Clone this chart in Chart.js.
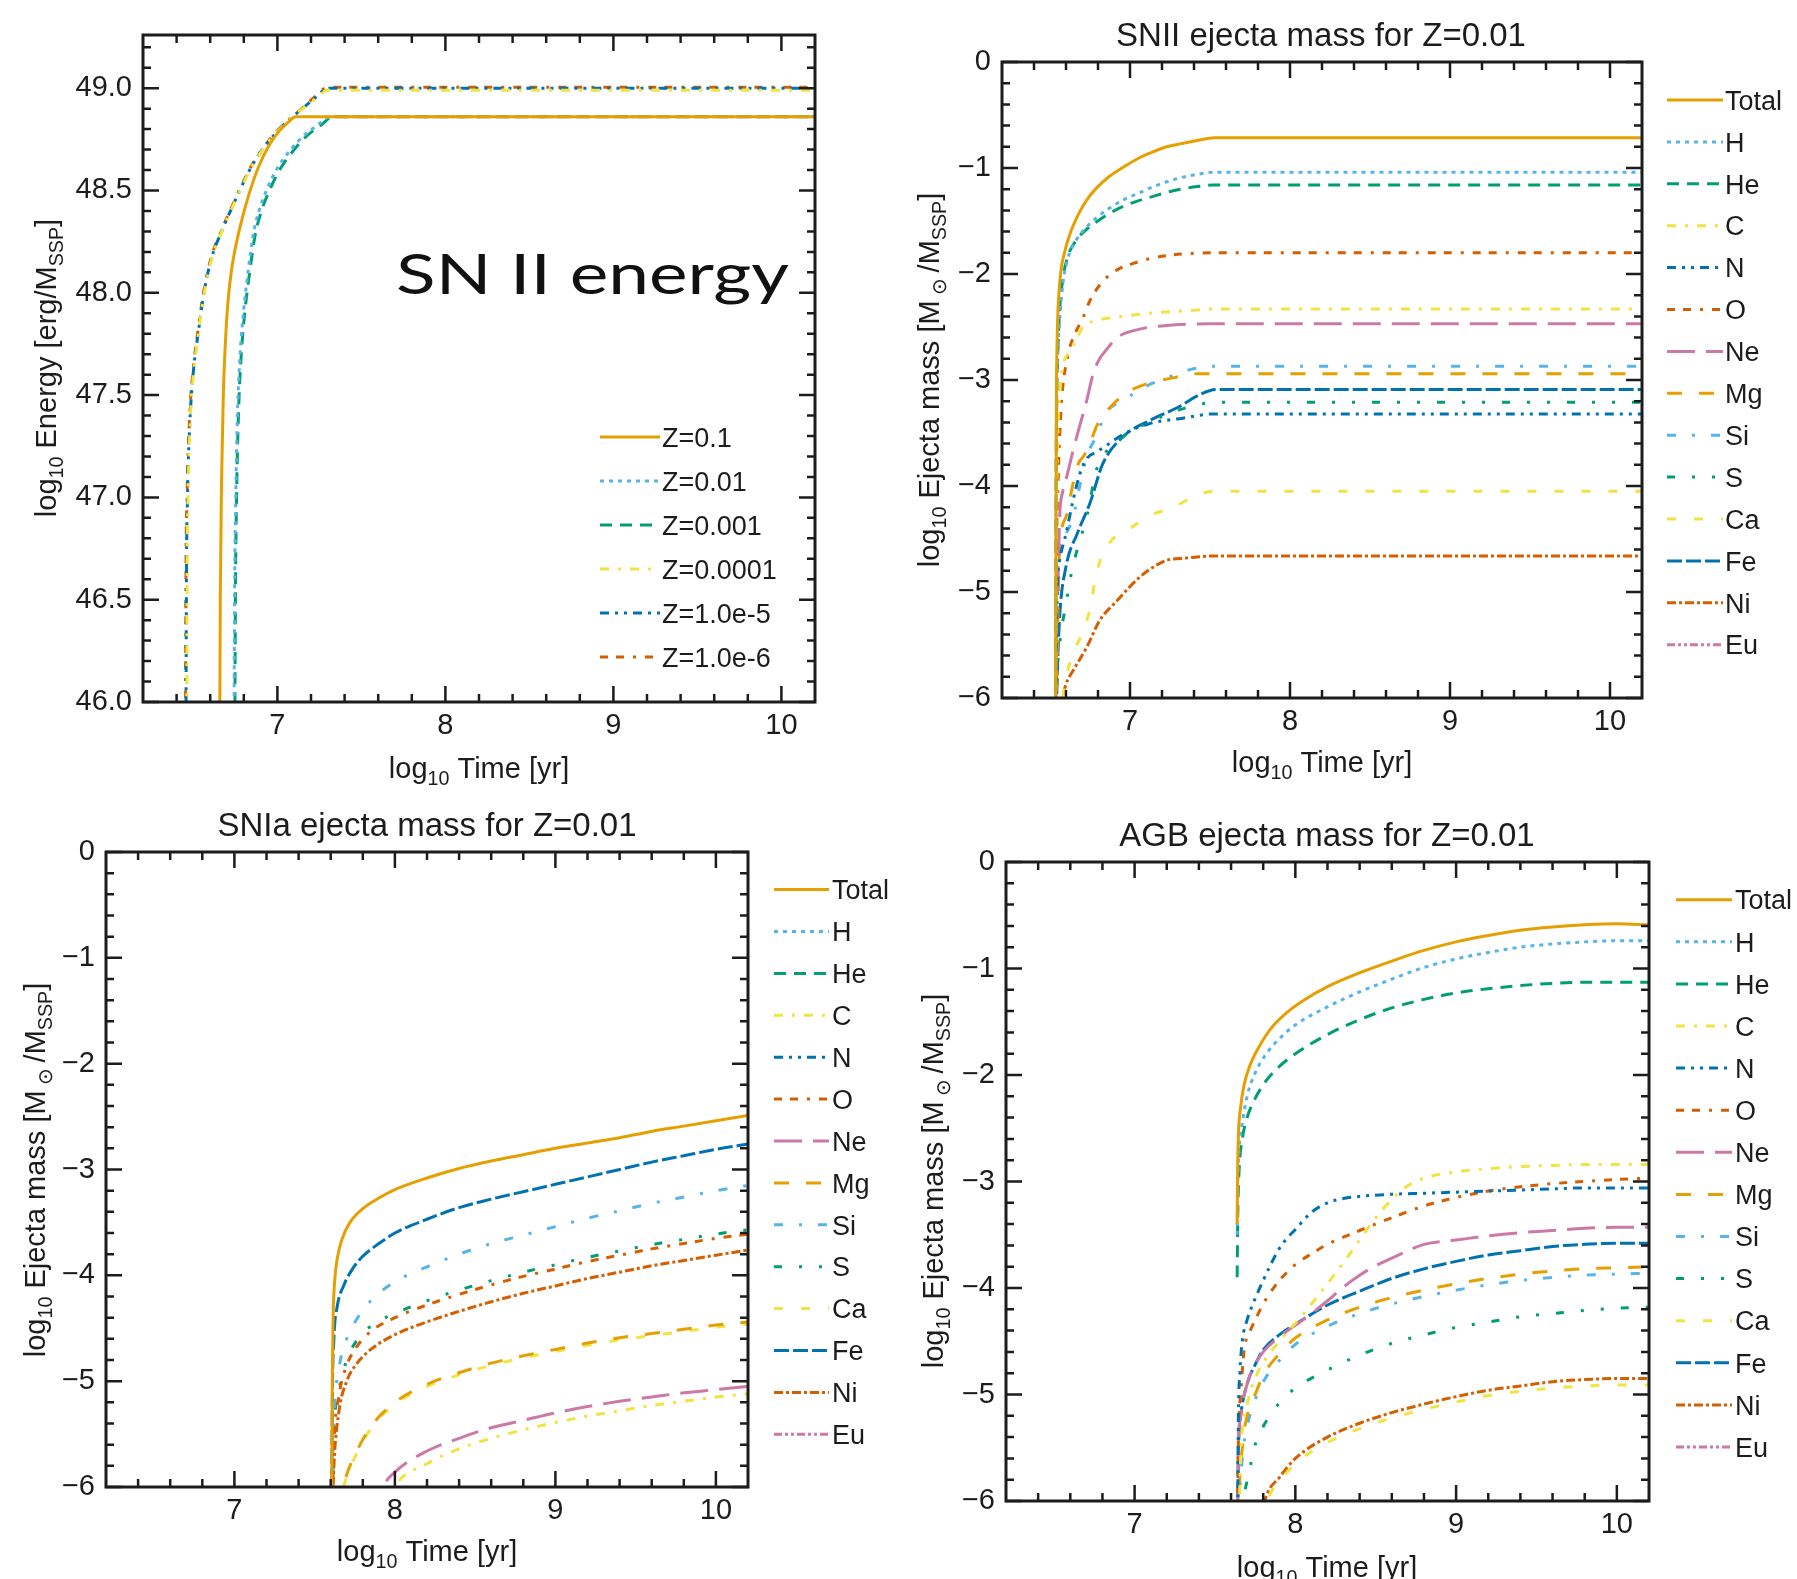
<!DOCTYPE html>
<html lang="en">
<head>
<meta charset="UTF-8">
<title>SN II energy and ejecta masses</title>
<script src="https://cdn.jsdelivr.net/npm/chart.js"></script>
<style>
  body { margin: 0; background: #fff; }
  #page { position: relative; width: 1797px; height: 1579px; overflow: hidden; background: #fff; }
  #page canvas { position: absolute; }
  #snLabel {
    position: absolute;
    font-family: "Lato", "Open Sans", sans-serif;
    font-weight: 400;
    font-size: 56px;
    line-height: 56px;
    color: #111;
    white-space: nowrap;
    transform-origin: left center;
  }
</style>
</head>
<body>
<div id="page">
  <canvas id="energyChart" width="900" height="800" style="left:0;top:0"></canvas>
  <canvas id="sniiChart" width="897" height="800" style="left:900px;top:0"></canvas>
  <canvas id="sniaChart" width="900" height="779" style="left:0;top:800px"></canvas>
  <canvas id="agbChart" width="897" height="779" style="left:900px;top:800px"></canvas>
  <div id="snLabel">SN II energy</div>
</div>

<script>
  // ---- axes ----
  const timeMin = 6.2, timeMax = 10.2;
  const timeTicks = [7, 8, 9, 10];
  const timeTickLabels = ["7", "8", "9", "10"];
  const energyTicks = [46, 46.5, 47, 47.5, 48, 48.5, 49];
  const energyTickLabels = ["46.0", "46.5", "47.0", "47.5", "48.0", "48.5", "49.0"];
  const massTicks = [0, -1, -2, -3, -4, -5, -6];
  const massTickLabels = ["0", "\u22121", "\u22122", "\u22123", "\u22124", "\u22125", "\u22126"];

  // ---- series names ----
  const metalNames = ["Z=0.1", "Z=0.01", "Z=0.001", "Z=0.0001", "Z=1.0e-5", "Z=1.0e-6"];
  const elementNames = ["Total", "H", "He", "C", "N", "O", "Ne", "Mg", "Si", "S", "Ca", "Fe", "Ni", "Eu"];

  // ---- SN II energy: [log10 t, log10 E] ----
  const eZ1e1 = [[6.655,45.5],[6.66,46.5],[6.668,47.1],[6.678,47.5],[6.69,47.75],[6.705,47.95],[6.725,48.1],[6.75,48.22],[6.78,48.33],[6.83,48.48],[6.89,48.62],[6.95,48.72],[7.01,48.79],[7.06,48.83],[7.11,48.86],[10.2,48.86]];
  const eZ1e2 = [[6.74,45.5],[6.745,46.5],[6.752,47.0],[6.762,47.4],[6.778,47.7],[6.8,47.92],[6.825,48.1],[6.855,48.28],[6.89,48.4],[6.94,48.51],[7.0,48.61],[7.08,48.7],[7.16,48.77],[7.24,48.82],[7.31,48.86],[10.2,48.86]];
  const eZ1e3 = [[6.745,45.5],[6.75,46.5],[6.757,47.0],[6.768,47.4],[6.785,47.7],[6.808,47.92],[6.835,48.1],[6.867,48.28],[6.905,48.4],[6.958,48.51],[7.02,48.61],[7.1,48.7],[7.18,48.77],[7.26,48.82],[7.33,48.86],[10.2,48.86]];
  const eZ1e4 = [[6.46,45.5],[6.462,46.5],[6.468,47.0],[6.48,47.35],[6.5,47.6],[6.53,47.8],[6.565,48.0],[6.61,48.17],[6.67,48.3],[6.75,48.45],[6.85,48.62],[6.95,48.74],[7.05,48.83],[7.15,48.9],[7.23,48.95],[7.3,48.99],[10.2,48.99]];
  const eZ1e5 = [[6.455,45.5],[6.458,46.5],[6.465,47.0],[6.478,47.35],[6.498,47.6],[6.528,47.8],[6.563,48.0],[6.608,48.17],[6.668,48.3],[6.748,48.45],[6.848,48.62],[6.948,48.74],[7.048,48.83],[7.148,48.9],[7.228,48.955],[7.3,49.0],[10.2,49.0]];
  const eZ1e6 = [[6.452,45.5],[6.455,46.5],[6.462,47.0],[6.475,47.35],[6.495,47.6],[6.525,47.8],[6.56,48.0],[6.605,48.17],[6.665,48.3],[6.745,48.45],[6.845,48.62],[6.945,48.74],[7.045,48.83],[7.145,48.9],[7.225,48.96],[7.3,49.005],[10.2,49.005]];

  // ---- SNII ejecta, Z=0.01: [log10 t, log10 M] ----
  const sn2Total = [[6.535,-6.5],[6.537,-4.5],[6.54,-3.2],[6.545,-2.6],[6.555,-2.2],[6.57,-1.95],[6.59,-1.8],[6.63,-1.6],[6.68,-1.43],[6.73,-1.3],[6.79,-1.19],[6.87,-1.08],[6.96,-0.99],[7.05,-0.91],[7.14,-0.85],[7.23,-0.8],[7.32,-0.77],[7.42,-0.74],[7.53,-0.715],[10.2,-0.715]];
  const sn2H = [[6.535,-6.5],[6.537,-4.5],[6.54,-3.5],[6.548,-2.8],[6.56,-2.45],[6.58,-2.1],[6.61,-1.86],[6.66,-1.69],[6.72,-1.57],[6.79,-1.47],[6.87,-1.38],[6.96,-1.3],[7.05,-1.24],[7.14,-1.18],[7.23,-1.13],[7.32,-1.09],[7.42,-1.06],[7.52,-1.04],[10.2,-1.04]];
  const sn2He = [[6.535,-6.5],[6.537,-4.5],[6.54,-3.5],[6.548,-2.8],[6.56,-2.35],[6.58,-2.05],[6.61,-1.84],[6.66,-1.69],[6.72,-1.59],[6.79,-1.51],[6.87,-1.43],[6.96,-1.36],[7.05,-1.31],[7.14,-1.27],[7.23,-1.23],[7.32,-1.2],[7.42,-1.175],[7.52,-1.16],[10.2,-1.16]];
  const sn2C = [[6.535,-6.5],[6.54,-4.5],[6.55,-3.5],[6.565,-3.05],[6.58,-2.87],[6.63,-2.72],[6.67,-2.6],[6.71,-2.49],[6.76,-2.45],[6.81,-2.43],[6.95,-2.4],[7.06,-2.38],[7.2,-2.36],[7.37,-2.345],[7.52,-2.33],[10.2,-2.33]];
  const sn2N = [[6.535,-6.5],[6.545,-5.0],[6.56,-4.7],[6.6,-4.45],[6.645,-4.13],[6.69,-3.87],[6.73,-3.74],[6.79,-3.68],[6.85,-3.62],[6.96,-3.51],[7.125,-3.41],[7.33,-3.36],[7.52,-3.32],[10.2,-3.32]];
  const sn2O = [[6.535,-6.5],[6.54,-4.8],[6.55,-4.0],[6.57,-3.26],[6.61,-2.78],[6.645,-2.6],[6.68,-2.49],[6.71,-2.4],[6.75,-2.25],[6.83,-2.07],[6.92,-1.96],[7.02,-1.9],[7.14,-1.85],[7.27,-1.82],[7.4,-1.805],[7.52,-1.8],[10.2,-1.8]];
  const sn2Ne = [[6.535,-6.5],[6.54,-5.5],[6.55,-4.9],[6.56,-4.3],[6.58,-4.05],[6.605,-3.91],[6.645,-3.66],[6.69,-3.41],[6.73,-3.19],[6.77,-2.94],[6.81,-2.8],[6.85,-2.72],[6.92,-2.6],[7.06,-2.52],[7.2,-2.49],[7.35,-2.475],[7.5,-2.47],[10.2,-2.47]];
  const sn2Mg = [[6.535,-6.5],[6.55,-5.2],[6.56,-4.6],[6.6,-4.29],[6.645,-3.97],[6.68,-3.78],[6.71,-3.72],[6.75,-3.6],[6.79,-3.44],[6.84,-3.32],[6.9,-3.22],[6.98,-3.12],[7.06,-3.06],[7.17,-3.01],[7.27,-2.98],[7.39,-2.94],[10.2,-2.94]];
  const sn2Si = [[6.535,-6.5],[6.545,-5.0],[6.56,-4.6],[6.6,-4.45],[6.645,-4.29],[6.69,-3.97],[6.73,-3.72],[6.79,-3.53],[6.85,-3.31],[6.96,-3.19],[7.1,-3.06],[7.23,-2.98],[7.38,-2.9],[7.52,-2.87],[10.2,-2.87]];
  const sn2S = [[6.535,-6.5],[6.545,-5.8],[6.56,-5.5],[6.605,-5.07],[6.63,-4.85],[6.67,-4.6],[6.73,-4.29],[6.79,-3.85],[6.87,-3.64],[6.96,-3.53],[7.05,-3.45],[7.145,-3.38],[7.31,-3.28],[7.47,-3.22],[7.52,-3.21],[10.2,-3.21]];
  const sn2Ca = [[6.535,-6.5],[6.57,-6.1],[6.6,-5.81],[6.645,-5.58],[6.7,-5.39],[6.75,-5.16],[6.78,-4.9],[6.81,-4.72],[6.875,-4.53],[7.0,-4.4],[7.125,-4.28],[7.27,-4.2],[7.4,-4.1],[7.52,-4.05],[10.2,-4.05]];
  const sn2Fe = [[6.535,-6.5],[6.545,-5.8],[6.56,-5.24],[6.6,-4.76],[6.67,-4.45],[6.75,-4.16],[6.83,-3.79],[6.96,-3.53],[7.125,-3.38],[7.31,-3.25],[7.42,-3.15],[7.54,-3.09],[10.2,-3.09]];
  const sn2Ni = [[6.56,-6.3],[6.58,-6.0],[6.6,-5.87],[6.645,-5.74],[6.73,-5.52],[6.81,-5.27],[6.92,-5.08],[7.06,-4.86],[7.15,-4.76],[7.23,-4.7],[7.35,-4.68],[7.52,-4.66],[10.2,-4.66]];
  const sn2Eu = [];

  // ---- SNIa ejecta, Z=0.01 ----
  const snaTotal = [[7.605,-6.5],[7.61,-5.0],[7.615,-4.4],[7.625,-4.05],[7.64,-3.85],[7.67,-3.66],[7.72,-3.5],[7.8,-3.37],[7.9,-3.27],[8.0,-3.19],[8.2,-3.08],[8.4,-2.99],[8.6,-2.92],[8.8,-2.86],[9.0,-2.8],[9.2,-2.75],[9.4,-2.7],[9.6,-2.64],[9.8,-2.59],[10.0,-2.54],[10.2,-2.49]];
  const snaH = [];
  const snaHe = [];
  const snaC = [[7.95,-6.2],[8.0,-6.0],[8.2,-5.78],[8.4,-5.64],[8.6,-5.54],[8.8,-5.46],[9.0,-5.39],[9.2,-5.33],[9.4,-5.28],[9.6,-5.23],[9.8,-5.19],[10.0,-5.15],[10.2,-5.12]];
  const snaN = [];
  const snaO = [[7.605,-6.5],[7.62,-5.6],[7.65,-5.15],[7.7,-4.85],[7.76,-4.68],[7.85,-4.53],[8.0,-4.4],[8.2,-4.28],[8.4,-4.18],[8.6,-4.09],[8.8,-4.01],[9.0,-3.94],[9.2,-3.87],[9.4,-3.81],[9.6,-3.75],[9.8,-3.7],[10.0,-3.65],[10.2,-3.61]];
  const snaNe = [[7.88,-6.3],[7.93,-6.0],[8.0,-5.86],[8.2,-5.66],[8.4,-5.54],[8.6,-5.44],[8.8,-5.37],[9.0,-5.3],[9.2,-5.24],[9.4,-5.19],[9.6,-5.15],[9.8,-5.11],[10.0,-5.08],[10.2,-5.05]];
  const snaMg = [[7.615,-6.5],[7.65,-6.2],[7.69,-5.93],[7.76,-5.67],[7.85,-5.43],[8.0,-5.2],[8.2,-5.03],[8.4,-4.92],[8.6,-4.83],[8.8,-4.76],[9.0,-4.7],[9.2,-4.64],[9.4,-4.59],[9.6,-4.55],[9.8,-4.51],[10.0,-4.47],[10.2,-4.44]];
  const snaSi = [[7.605,-6.5],[7.62,-5.4],[7.65,-4.9],[7.7,-4.6],[7.76,-4.42],[7.85,-4.24],[8.0,-4.06],[8.2,-3.92],[8.4,-3.8],[8.6,-3.7],[8.8,-3.62],[9.0,-3.54],[9.2,-3.46],[9.4,-3.39],[9.6,-3.32],[9.8,-3.26],[10.0,-3.2],[10.2,-3.15]];
  const snaS = [[7.605,-6.5],[7.62,-5.5],[7.65,-5.1],[7.7,-4.8],[7.76,-4.62],[7.85,-4.48],[8.0,-4.36],[8.2,-4.24],[8.4,-4.14],[8.6,-4.05],[8.8,-3.97],[9.0,-3.9],[9.2,-3.83],[9.4,-3.77],[9.6,-3.71],[9.8,-3.66],[10.0,-3.61],[10.2,-3.57]];
  const snaCa = [[7.615,-6.5],[7.65,-6.22],[7.69,-5.95],[7.76,-5.69],[7.85,-5.45],[8.0,-5.22],[8.2,-5.05],[8.4,-4.94],[8.6,-4.85],[8.8,-4.78],[9.0,-4.72],[9.2,-4.66],[9.4,-4.61],[9.6,-4.57],[9.8,-4.53],[10.0,-4.49],[10.2,-4.46]];
  const snaFe = [[7.605,-6.5],[7.61,-5.2],[7.62,-4.6],[7.64,-4.3],[7.68,-4.1],[7.74,-3.93],[7.8,-3.82],[7.9,-3.7],[8.0,-3.6],[8.2,-3.47],[8.4,-3.36],[8.6,-3.28],[8.8,-3.21],[9.0,-3.14],[9.2,-3.07],[9.4,-3.0],[9.6,-2.93],[9.8,-2.87],[10.0,-2.81],[10.2,-2.76]];
  const snaNi = [[7.605,-6.5],[7.62,-5.8],[7.65,-5.3],[7.7,-5.0],[7.76,-4.84],[7.85,-4.7],[8.0,-4.56],[8.2,-4.44],[8.4,-4.34],[8.6,-4.25],[8.8,-4.17],[9.0,-4.1],[9.2,-4.03],[9.4,-3.97],[9.6,-3.91],[9.8,-3.86],[10.0,-3.81],[10.2,-3.76]];
  const snaEu = [];

  // ---- AGB ejecta, Z=0.01 ----
  const agbTotal = [[7.638,-3.4],[7.64,-3.0],[7.645,-2.6],[7.66,-2.3],[7.68,-2.1],[7.72,-1.9],[7.78,-1.72],[7.85,-1.56],[7.95,-1.41],[8.05,-1.3],[8.2,-1.17],[8.4,-1.04],[8.6,-0.93],[8.8,-0.83],[9.0,-0.75],[9.2,-0.69],[9.4,-0.64],[9.6,-0.61],[9.8,-0.59],[10.0,-0.58],[10.2,-0.59]];
  const agbH = [[7.638,-3.5],[7.642,-3.0],[7.65,-2.7],[7.67,-2.45],[7.7,-2.2],[7.75,-1.98],[7.82,-1.8],[7.9,-1.66],[8.0,-1.53],[8.2,-1.36],[8.4,-1.22],[8.6,-1.1],[8.8,-0.99],[9.0,-0.91],[9.2,-0.85],[9.4,-0.8],[9.6,-0.77],[9.8,-0.75],[10.0,-0.74],[10.2,-0.74]];
  const agbHe = [[7.638,-3.9],[7.642,-3.3],[7.65,-2.9],[7.67,-2.6],[7.7,-2.4],[7.75,-2.22],[7.82,-2.05],[7.9,-1.92],[8.0,-1.8],[8.2,-1.62],[8.4,-1.48],[8.6,-1.37],[8.8,-1.29],[9.0,-1.23],[9.2,-1.19],[9.4,-1.16],[9.6,-1.14],[9.8,-1.13],[10.0,-1.13],[10.2,-1.13]];
  const agbC = [[7.645,-6.5],[7.66,-5.6],[7.7,-5.1],[7.75,-4.85],[7.8,-4.7],[7.9,-4.5],[8.0,-4.33],[8.1,-4.15],[8.2,-3.96],[8.3,-3.76],[8.4,-3.55],[8.5,-3.34],[8.6,-3.17],[8.7,-3.04],[8.8,-2.97],[9.0,-2.91],[9.2,-2.88],[9.4,-2.86],[9.6,-2.85],[9.8,-2.84],[10.0,-2.84],[10.2,-2.84]];
  const agbN = [[7.64,-6.5],[7.645,-5.3],[7.655,-4.8],[7.67,-4.5],[7.7,-4.3],[7.75,-4.1],[7.8,-3.93],[7.85,-3.77],[7.9,-3.63],[7.95,-3.53],[8.0,-3.45],[8.1,-3.29],[8.2,-3.2],[8.3,-3.16],[8.4,-3.14],[8.6,-3.12],[8.8,-3.11],[9.0,-3.1],[9.2,-3.09],[9.4,-3.08],[9.6,-3.07],[9.8,-3.06],[10.0,-3.06],[10.2,-3.06]];
  const agbO = [[7.64,-6.5],[7.645,-5.5],[7.66,-5.0],[7.68,-4.6],[7.72,-4.4],[7.75,-4.3],[7.8,-4.15],[7.85,-4.03],[7.9,-3.93],[8.0,-3.78],[8.1,-3.68],[8.2,-3.59],[8.4,-3.46],[8.6,-3.34],[8.8,-3.23],[9.0,-3.15],[9.2,-3.09],[9.4,-3.05],[9.6,-3.02],[9.8,-3.0],[10.0,-2.98],[10.2,-2.97]];
  const agbNe = [[7.64,-6.5],[7.645,-5.6],[7.66,-5.2],[7.7,-4.9],[7.75,-4.72],[7.8,-4.6],[7.9,-4.46],[8.0,-4.35],[8.1,-4.24],[8.2,-4.12],[8.3,-3.99],[8.4,-3.88],[8.5,-3.79],[8.6,-3.72],[8.7,-3.65],[8.8,-3.59],[9.0,-3.55],[9.2,-3.51],[9.4,-3.48],[9.6,-3.46],[9.8,-3.44],[10.0,-3.43],[10.2,-3.43]];
  const agbMg = [[7.645,-6.5],[7.65,-6.0],[7.67,-5.5],[7.7,-5.2],[7.75,-5.0],[7.8,-4.82],[7.9,-4.62],[8.0,-4.47],[8.2,-4.3],[8.4,-4.18],[8.6,-4.09],[8.8,-4.02],[9.0,-3.96],[9.2,-3.91],[9.4,-3.87],[9.6,-3.84],[9.8,-3.82],[10.0,-3.81],[10.2,-3.8]];
  const agbSi = [[7.645,-6.5],[7.65,-6.1],[7.67,-5.6],[7.7,-5.3],[7.75,-5.05],[7.8,-4.88],[7.9,-4.68],[8.0,-4.53],[8.2,-4.36],[8.4,-4.24],[8.6,-4.15],[8.8,-4.08],[9.0,-4.02],[9.2,-3.97],[9.4,-3.93],[9.6,-3.9],[9.8,-3.88],[10.0,-3.87],[10.2,-3.86]];
  const agbS = [[7.66,-6.5],[7.68,-6.0],[7.71,-5.75],[7.75,-5.47],[7.8,-5.3],[7.85,-5.18],[7.9,-5.08],[8.0,-4.94],[8.2,-4.77],[8.4,-4.63],[8.6,-4.52],[8.8,-4.44],[9.0,-4.37],[9.2,-4.32],[9.4,-4.27],[9.6,-4.24],[9.8,-4.21],[10.0,-4.19],[10.2,-4.18]];
  const agbCa = [[7.8,-6.2],[7.84,-5.95],[7.9,-5.82],[8.0,-5.65],[8.2,-5.45],[8.4,-5.32],[8.6,-5.22],[8.8,-5.14],[9.0,-5.07],[9.2,-5.01],[9.4,-4.97],[9.6,-4.94],[9.8,-4.92],[10.0,-4.91],[10.2,-4.91]];
  const agbFe = [[7.64,-6.5],[7.645,-5.6],[7.66,-5.2],[7.7,-4.9],[7.75,-4.72],[7.8,-4.58],[7.9,-4.44],[8.0,-4.34],[8.2,-4.16],[8.4,-4.03],[8.6,-3.91],[8.8,-3.82],[9.0,-3.75],[9.2,-3.69],[9.4,-3.65],[9.6,-3.61],[9.8,-3.59],[10.0,-3.58],[10.2,-3.58]];
  const agbNi = [[7.78,-6.2],[7.82,-5.95],[7.9,-5.78],[8.0,-5.6],[8.2,-5.4],[8.4,-5.27],[8.6,-5.17],[8.8,-5.09],[9.0,-5.02],[9.2,-4.96],[9.4,-4.92],[9.6,-4.88],[9.8,-4.86],[10.0,-4.85],[10.2,-4.85]];
  const agbEu = [];

  // ---- styles ----
  const ink = "#1c1c1c";
  const family = '"Liberation Sans", Arial, sans-serif';
  const lineColors = ["#E69F00", "#56B4E9", "#009E73", "#F0E442", "#0072B2", "#D55E00", "#CC79A7",
                      "#E69F00", "#56B4E9", "#009E73", "#F0E442", "#0072B2", "#D55E00", "#CC79A7"];
  const lineDashes = [[], [4, 5], [12, 8], [9, 9, 3, 9], [9, 6, 3, 6, 3, 6], [8, 8, 8, 9, 3, 9], [28, 11],
                      [15, 17], [9, 16, 3, 16], [8, 17, 3, 17, 3, 17], [9, 18], [15, 4], [9, 3, 3, 3], [8, 3, 3, 3, 3, 3]];

  const timeMinor = [];
  for (let k = 32; k <= 50; k++) if (k % 5) timeMinor.push(k / 5);
  const energyMinor = [];
  for (let k = 461; k <= 492; k++) if (k % 5) energyMinor.push(k / 10);
  const massMinor = [];
  for (let k = -29; k < 0; k++) if (k % 5) massMinor.push(k / 5);

  const logParts = [{t: "log"}, {t: "10", sub: true}];
  const timeTitle = logParts.concat([{t: " Time [yr]"}]);
  const energyTitle = logParts.concat([{t: " Energy [erg/M"}, {t: "SSP", sub: true}, {t: "]"}]);
  const massTitle = logParts.concat([{t: " Ejecta mass [M"}, {t: " \u2299 ", sub: true}, {t: "/M"}, {t: "SSP", sub: true}, {t: "]"}]);

  function drawRich(ctx, parts, cx, cy, size, vertical) {
    ctx.save();
    ctx.translate(cx, cy);
    if (vertical) ctx.rotate(-Math.PI / 2);
    let w = 0;
    parts.forEach(p => {
      ctx.font = `${p.sub ? size * 0.68 : size}px ${family}`;
      w += ctx.measureText(p.t).width;
    });
    let x = -w / 2;
    ctx.fillStyle = ink;
    ctx.textAlign = "left";
    ctx.textBaseline = "alphabetic";
    parts.forEach(p => {
      ctx.font = `${p.sub ? size * 0.68 : size}px ${family}`;
      ctx.fillText(p.t, x, size * 0.36 + (p.sub ? size * 0.22 : 0));
      x += ctx.measureText(p.t).width;
    });
    ctx.restore();
  }

  const decor = p => ({
    id: "decor",
    afterDatasetsDraw(chart) {
      const {ctx, chartArea: a, scales: {x, y}} = chart;
      ctx.save();
      ctx.strokeStyle = ink;
      ctx.lineWidth = 2.5;
      ctx.beginPath();
      const xt = (v, len) => {
        const px = x.getPixelForValue(v);
        ctx.moveTo(px, a.bottom); ctx.lineTo(px, a.bottom - len);
        ctx.moveTo(px, a.top); ctx.lineTo(px, a.top + len);
      };
      const yt = (v, len) => {
        const py = y.getPixelForValue(v);
        ctx.moveTo(a.left, py); ctx.lineTo(a.left + len, py);
        ctx.moveTo(a.right, py); ctx.lineTo(a.right - len, py);
      };
      timeTicks.forEach(v => xt(v, 16));
      timeMinor.forEach(v => xt(v, 8));
      p.yTicks.forEach(v => yt(v, 16));
      p.yMinor.forEach(v => yt(v, 8));
      ctx.stroke();
      ctx.lineWidth = 3;
      ctx.strokeRect(a.left, a.top, a.right - a.left, a.bottom - a.top);

      // key
      const L = p.legend;
      chart.data.datasets.forEach((ds, i) => {
        const ly = L.top + i * L.step;
        ctx.strokeStyle = ds.borderColor;
        ctx.lineWidth = ds.borderWidth;
        ctx.setLineDash(ds.borderDash);
        ctx.beginPath();
        ctx.moveTo(L.x1, ly); ctx.lineTo(L.x2, ly);
        ctx.stroke();
        ctx.setLineDash([]);
        ctx.fillStyle = ink;
        ctx.font = `27px ${family}`;
        ctx.textAlign = "left";
        ctx.textBaseline = "alphabetic";
        ctx.fillText(ds.label, L.tx, ly + 27 * 0.36);
      });

      if (p.title) {
        ctx.fillStyle = ink;
        ctx.font = `33px ${family}`;
        ctx.textAlign = "center";
        ctx.textBaseline = "alphabetic";
        ctx.fillText(p.title.text, p.title.x, p.title.y + 33 * 0.36);
      }
      drawRich(ctx, timeTitle, p.xTitle[0], p.xTitle[1], 29, false);
      drawRich(ctx, p.yTitleParts, p.yTitle[0], p.yTitle[1], 29, true);
      ctx.restore();
    }
  });

  function makePanel(id, p) {
    const tickFont = {family: family, size: 29};
    return new Chart(document.getElementById(id), {
      type: "line",
      data: {
        datasets: p.series.map((s, i) => ({
          label: p.names[i],
          data: s.map(([x, y]) => ({x, y})),
          borderColor: lineColors[i],
          borderDash: lineDashes[i],
          borderWidth: 3,
          pointRadius: 0,
          fill: false,
          cubicInterpolationMode: "monotone",
          clip: 0
        }))
      },
      options: {
        responsive: false,
        animation: false,
        events: [],
        layout: {padding: {left: 0, right: p.padRight, top: p.padTop, bottom: 0}},
        plugins: {legend: {display: false}, tooltip: {enabled: false}, title: {display: false}},
        scales: {
          x: {
            type: "linear", min: timeMin, max: timeMax,
            grid: {display: false, drawTicks: false}, border: {display: false},
            afterBuildTicks: s => { s.ticks = timeTicks.map(v => ({value: v})); },
            afterFit: s => { s.height = p.xAxisHeight; },
            ticks: {padding: 7, color: ink, font: tickFont, maxRotation: 0,
                    callback: (v, i) => timeTickLabels[i]}
          },
          y: {
            type: "linear", min: p.yMin, max: p.yMax,
            grid: {display: false, drawTicks: false}, border: {display: false},
            afterBuildTicks: s => { s.ticks = p.yTicks.map(v => ({value: v})); },
            afterFit: s => { s.width = p.yAxisWidth; },
            ticks: {padding: 11, color: ink, font: tickFont,
                    callback: (v, i) => p.yTickLabels[i]}
          }
        }
      },
      plugins: [decor(p)]
    });
  }

  const massPanel = {
    names: elementNames, yMin: -6, yMax: 0,
    yTicks: massTicks, yTickLabels: massTickLabels, yMinor: massMinor,
    yTitleParts: massTitle
  };

  makePanel("energyChart", {
    names: metalNames,
    series: [eZ1e1, eZ1e2, eZ1e3, eZ1e4, eZ1e5, eZ1e6],
    yMin: 46, yMax: 49.26,
    yTicks: energyTicks, yTickLabels: energyTickLabels, yMinor: energyMinor,
    yTitleParts: energyTitle,
    padRight: 85, padTop: 35, yAxisWidth: 143, xAxisHeight: 98,
    xTitle: [479, 768], yTitle: [46, 368],
    legend: {x1: 600, x2: 660, tx: 662, top: 437, step: 44}
  });

  makePanel("sniiChart", Object.assign({}, massPanel, {
    series: [sn2Total, sn2H, sn2He, sn2C, sn2N, sn2O, sn2Ne, sn2Mg, sn2Si, sn2S, sn2Ca, sn2Fe, sn2Ni, sn2Eu],
    padRight: 155, padTop: 62, yAxisWidth: 102, xAxisHeight: 102,
    title: {text: "SNII ejecta mass for Z=0.01", x: 421, y: 34},
    xTitle: [422, 762], yTitle: [29, 380],
    legend: {x1: 767, x2: 823, tx: 825, top: 100, step: 41.9}
  }));

  makePanel("sniaChart", Object.assign({}, massPanel, {
    series: [snaTotal, snaH, snaHe, snaC, snaN, snaO, snaNe, snaMg, snaSi, snaS, snaCa, snaFe, snaNi, snaEu],
    padRight: 152, padTop: 52, yAxisWidth: 106, xAxisHeight: 92,
    title: {text: "SNIa ejecta mass for Z=0.01", x: 427, y: 24},
    xTitle: [427, 751], yTitle: [35, 370],
    legend: {x1: 774, x2: 829, tx: 832, top: 89.6, step: 41.9}
  }));

  makePanel("agbChart", Object.assign({}, massPanel, {
    series: [agbTotal, agbH, agbHe, agbC, agbN, agbO, agbNe, agbMg, agbSi, agbS, agbCa, agbFe, agbNi, agbEu],
    padRight: 148, padTop: 62, yAxisWidth: 106, xAxisHeight: 78,
    title: {text: "AGB ejecta mass for Z=0.01", x: 427, y: 34},
    xTitle: [427, 767], yTitle: [33, 381],
    legend: {x1: 776, x2: 832, tx: 835, top: 99.7, step: 42.1}
  }));

  // big annotation inside the energy panel
  const lab = document.getElementById("snLabel");
  const natural = lab.getBoundingClientRect().width;
  lab.style.left = (592 - 393 / 2) + "px";
  lab.style.top = "245px";
  lab.style.transform = `scaleX(${393 / natural})`;
</script>
</body>
</html>
